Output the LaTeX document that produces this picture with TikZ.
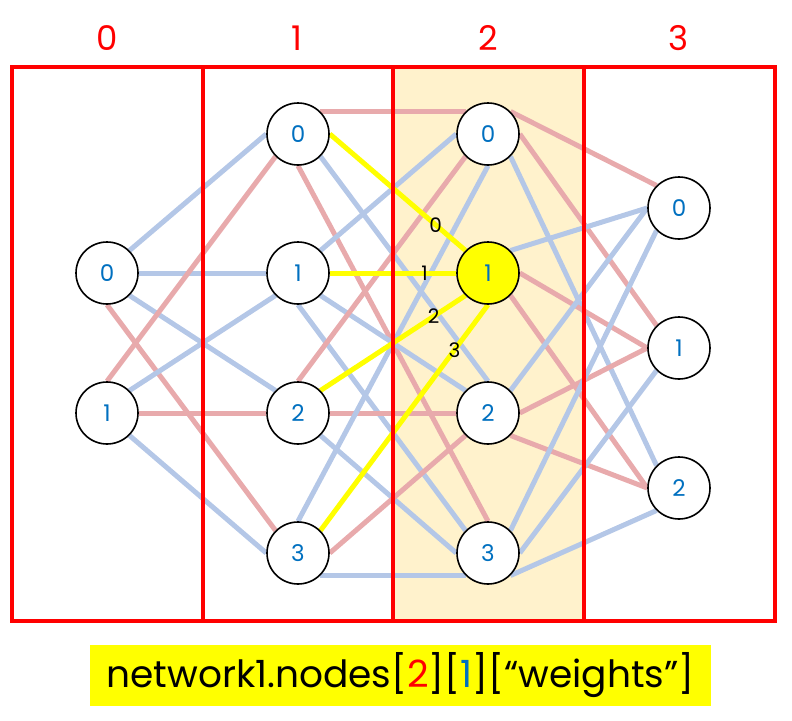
\documentclass[tikz,border=0pt]{standalone}
\usepackage{fontspec}
\setmainfont{Poppins}
\definecolor{boxred}{RGB}{255,0,0}
\definecolor{edgeblue}{RGB}{180,199,231}
\definecolor{edgepink}{RGB}{232,170,172}
\definecolor{hiyellow}{RGB}{255,255,0}
\definecolor{layerfill}{RGB}{255,242,204}
\definecolor{digitblue}{RGB}{0,112,192}
\usetikzlibrary{positioning}
\pgfdeclarelayer{background}
\pgfsetlayers{background,main}

\begin{document}
\begin{tikzpicture}[x=1pt, y=-1pt,
  neuron/.style={circle, draw=black, line width=1.6pt, fill=white, minimum size=62pt, inner sep=0pt, text=digitblue, font=\fontsize{23}{28}\selectfont},
  blueedge/.style={draw=edgeblue, line width=5pt},
  pinkedge/.style={draw=edgepink, line width=5pt},
  hiedge/.style={draw=hiyellow, line width=5pt},
  layerbox/.style={draw=boxred, line width=4pt},
  layerlabel/.style={text=boxred, font=\fontsize{34}{40}\selectfont},
  wlabel/.style={font=\fontsize{20}{24}\selectfont, inner sep=0pt, text=black}]
  \useasboundingbox (0,0) rectangle (792,720);

  % layer titles
  \node[layerlabel] (title0) at (107,38) {0};
  \node[layerlabel] (title1) at (297,38) {1};
  \node[layerlabel] (title2) at (488,38) {2};
  \node[layerlabel] (title3) at (679,38) {3};

  % layer 0
  \node[neuron] (l0n0) at (107,273) {0};
  \node[neuron] (l0n1) at (107,413) {1};
  % layer 1
  \node[neuron] (l1n0) at (298,134) {0};
  \node[neuron] (l1n1) at (298,273) {1};
  \node[neuron] (l1n2) at (298,413) {2};
  \node[neuron] (l1n3) at (298,553) {3};
  % layer 2
  \node[neuron] (l2n0) at (488,134) {0};
  \node[neuron, fill=hiyellow] (l2n1) at (488,273) {1};
  \node[neuron] (l2n2) at (488,413) {2};
  \node[neuron] (l2n3) at (488,553) {3};
  % layer 3
  \node[neuron] (l3n0) at (679,208) {0};
  \node[neuron] (l3n1) at (679,348) {1};
  \node[neuron] (l3n2) at (679,488) {2};

  \begin{pgfonlayer}{background}
    \fill[layerfill] (393,67) rectangle (584,621);

    % layer 0 -> layer 1
    \draw[blueedge] (l0n0.north east) -- (l1n0.west);
    \draw[blueedge] (l0n0.east) -- (l1n1.west);
    \draw[blueedge] (l0n0.south east) -- (l1n2.north west);
    \draw[pinkedge] (l0n0.south) -- (l1n3.north west);
    \draw[pinkedge] (l0n1.north) -- (l1n0.south west);
    \draw[blueedge] (l0n1.north east) -- (l1n1.south west);
    \draw[pinkedge] (l0n1.east) -- (l1n2.west);
    \draw[blueedge] (l0n1.south east) -- (l1n3.west);

    % layer 1 -> layer 2
    \draw[pinkedge] (l1n0.north east) -- (l2n0.north west);
    \draw[blueedge] (l1n0.south east) -- (l2n2.north);
    \draw[pinkedge] (l1n0.south) -- (l2n3.north);
    \draw[blueedge] (l1n1.north east) -- (l2n0.west);
    \draw[blueedge] (l1n1.south east) -- (l2n2.north west);
    \draw[blueedge] (l1n1.south) -- (l2n3.north west);
    \draw[pinkedge] (l1n2.north) -- (l2n0.south west);
    \draw[pinkedge] (l1n2.east) -- (l2n2.west);
    \draw[blueedge] (l1n2.south east) -- (l2n3.west);
    \draw[blueedge] (l1n3.north) -- (l2n0.south);
    \draw[pinkedge] (l1n3.east) -- (l2n2.south west);
    \draw[blueedge] (l1n3.south east) -- (l2n3.south west);

    % layer 2 -> layer 3
    \draw[pinkedge] (l2n0.north east) -- (l3n0.north west);
    \draw[pinkedge] (l2n0.east) -- (l3n1.north west);
    \draw[blueedge] (l2n0.south east) -- (l3n2.north west);
    \draw[blueedge] (l2n1.north east) -- (l3n0.west);
    \draw[pinkedge] (l2n1.east) -- (l3n1.west);
    \draw[pinkedge] (l2n1.south east) -- (l3n2.west);
    \draw[blueedge] (l2n2.north east) -- (l3n0.west);
    \draw[pinkedge] (l2n2.east) -- (l3n1.west);
    \draw[pinkedge] (l2n2.south east) -- (l3n2.west);
    \draw[blueedge] (l2n3.north east) -- (l3n0.south west);
    \draw[blueedge] (l2n3.east) -- (l3n1.south west);
    \draw[blueedge] (l2n3.south east) -- (l3n2.south west);

    % weights of node 1 in layer 2
    \draw[hiedge] (l1n0.east) -- (l2n1.north west) node[wlabel, pos=0.78] (w0) {0};
    \draw[hiedge] (l1n1.east) -- (l2n1.west) node[wlabel, pos=0.75] (w1) {1};
    \draw[hiedge] (l1n2.north east) -- (l2n1.south west) node[wlabel, pos=0.78] (w2) {2};
    \draw[hiedge] (l1n3.north east) -- (l2n1.south) node[wlabel, pos=0.8] (w3) {3};

    % layers
    \draw[layerbox] (12,67) rectangle (203,621);
    \draw[layerbox] (203,67) rectangle (393,621);
    \draw[layerbox] (393,67) rectangle (584,621);
    \draw[layerbox] (584,67) rectangle (775,621);
  \end{pgfonlayer}

  % caption
  \node[fill=hiyellow, minimum width=621pt, minimum height=61pt, inner sep=0pt, font=\fontsize{37.5}{44}\selectfont] (caption) at (400.5,675.5)
    {network1.nodes[\textcolor{boxred}{2}][\textcolor{digitblue}{1}][“weights”]};
\end{tikzpicture}
\end{document}
